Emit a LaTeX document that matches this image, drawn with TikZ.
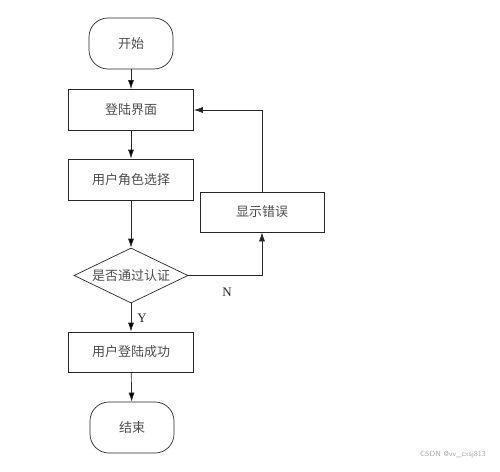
\documentclass[tikz,border=0pt]{standalone}
\usepackage{fontspec}
\setmainfont{Liberation Serif}
\newfontfamily\cjk{Noto Sans CJK SC}
\usepackage{tikz}
\usetikzlibrary{shapes.geometric, arrows.meta}

\tikzset{
  cjktext/.style={font=\cjk\fontsize{13}{15}\selectfont, text=black!70},
  stepbox/.style={shape=rectangle, draw=black!85, minimum width=125pt, minimum height=41pt, cjktext},
  termbox/.style={shape=rectangle, draw=black!85, rounded corners=19pt, minimum width=84pt, minimum height=51pt, cjktext},
  checkbox/.style={shape=diamond, draw=black!85, aspect=2, inner sep=0pt, minimum width=114pt, minimum height=55pt, cjktext},
}

\begin{document}
\begin{tikzpicture}[x=1pt, y=-1pt, line width=0.7pt, >={Latex[length=9pt,width=6pt]}]
\useasboundingbox (0,0) rectangle (500,471);

\node[termbox](start) at (131,43.5) {开始};
\node[stepbox](login) at (131,110) {登陆界面};
\node[stepbox](role) at (131,179.5) {用户角色选择};
\node[checkbox](check) at (131,275.5) {是否通过认证};
\node[stepbox, minimum width=124pt, minimum height=40pt](error) at (262,212) {显示错误};
\node[stepbox, minimum height=40pt](success) at (131,352) {用户登陆成功};
\node[termbox](end) at (132,427.5) {结束};

\node[font=\fontsize{13}{15}\selectfont, text=black!85](n) at (227,292) {N};
\node[font=\fontsize{13}{15}\selectfont, text=black!85](y) at (142,318) {Y};

\node[font=\sffamily\fontsize{7.5}{9}\selectfont, text=black!35](mark) at (453,455) {CSDN @vv\_cxsj813};

\path[->, draw=black!85] (start) edge (login);
\path[->, draw=black!85] (login) edge (role);
\path[->, draw=black!85] (role) edge (check);
\path[->, draw=black!85] (check) edge (success);
\path[->, draw=black!85] (success) edge (end);

\draw[->, black!85] (check.east) -| (error.south);
\draw[->, black!85] (error.north) |- (login.east);
\end{tikzpicture}
\end{document}
